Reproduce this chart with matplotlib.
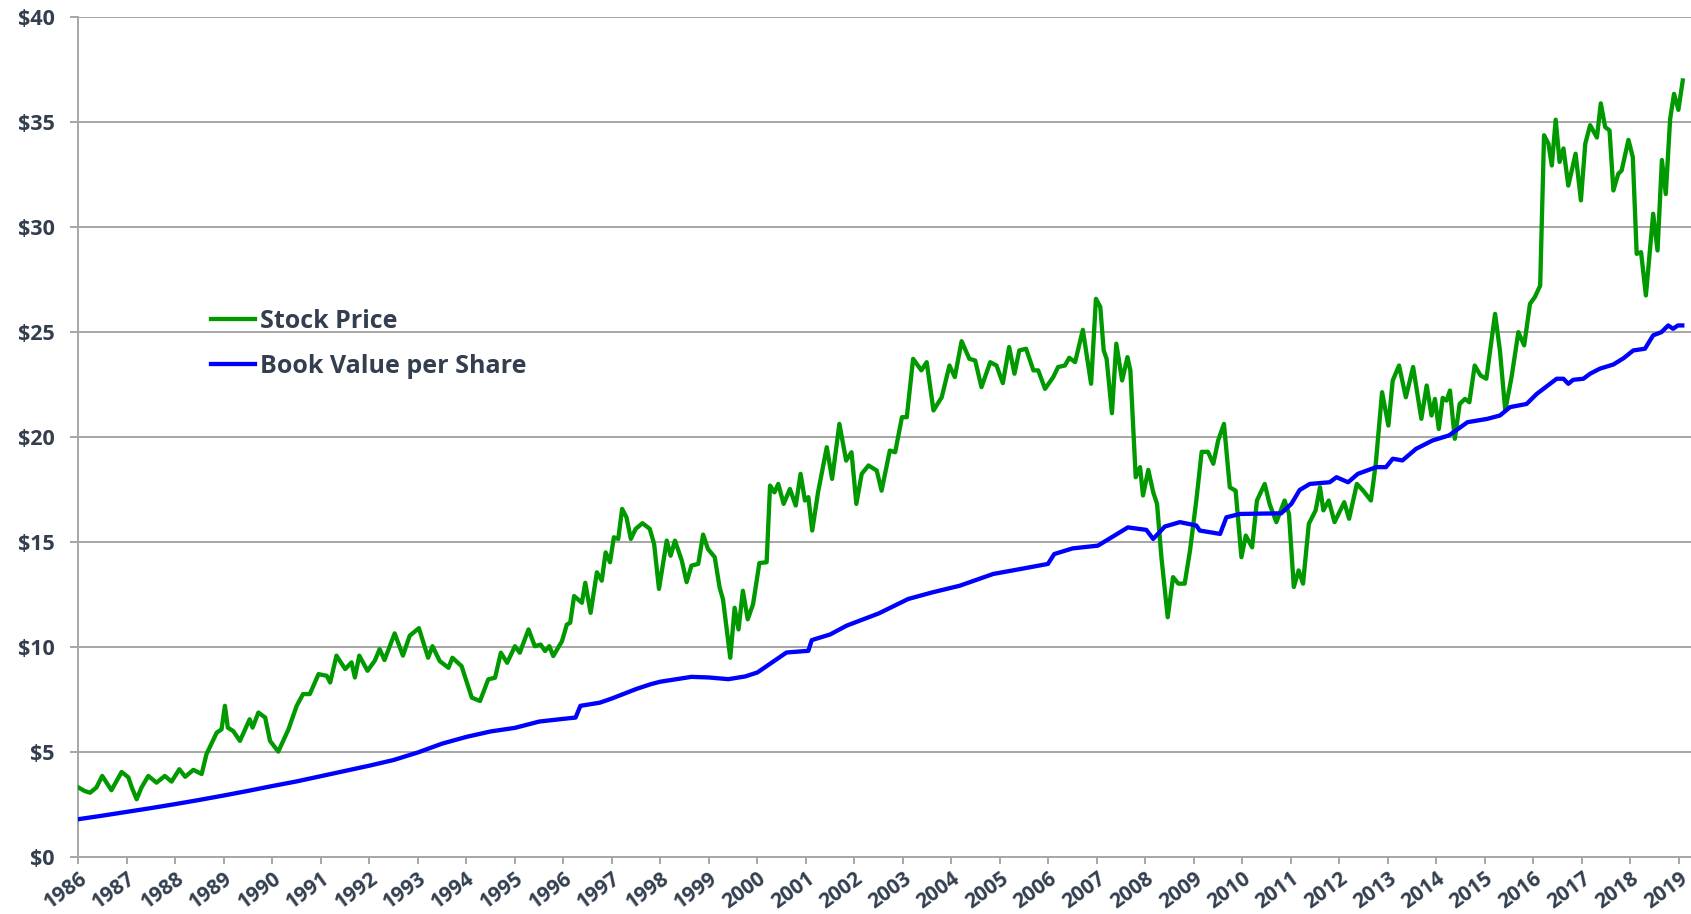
import matplotlib
matplotlib.use('Agg')
import matplotlib.pyplot as plt
from matplotlib.ticker import FuncFormatter

# stock price (decimal year, $)
price_years = [
    1986.00, 1986.13, 1986.24, 1986.37, 1986.49, 1986.58, 1986.68, 1986.89, 1987.03, 1987.10,
    1987.20, 1987.30, 1987.44, 1987.61, 1987.78, 1987.92, 1988.08, 1988.20, 1988.37, 1988.54,
    1988.64, 1988.85, 1988.95, 1989.02, 1989.08, 1989.19, 1989.33, 1989.53, 1989.59, 1989.71,
    1989.85, 1989.95, 1990.12, 1990.33, 1990.50, 1990.63, 1990.77, 1990.95, 1991.12, 1991.19,
    1991.32, 1991.50, 1991.63, 1991.70, 1991.79, 1991.96, 1992.11, 1992.21, 1992.31, 1992.52,
    1992.69, 1992.83, 1993.02, 1993.21, 1993.30, 1993.45, 1993.63, 1993.71, 1993.90, 1994.11,
    1994.28, 1994.45, 1994.59, 1994.71, 1994.84, 1995.00, 1995.10, 1995.28, 1995.41, 1995.53,
    1995.62, 1995.71, 1995.79, 1995.97, 1996.07, 1996.14, 1996.22, 1996.38, 1996.45, 1996.56,
    1996.69, 1996.79, 1996.87, 1996.96, 1997.04, 1997.13, 1997.21, 1997.30, 1997.39, 1997.49,
    1997.63, 1997.78, 1997.87, 1997.97, 1998.13, 1998.21, 1998.30, 1998.44, 1998.54, 1998.64,
    1998.78, 1998.88, 1998.98, 1999.12, 1999.22, 1999.29, 1999.44, 1999.53, 1999.61, 1999.70,
    1999.80, 1999.91, 2000.04, 2000.19, 2000.26, 2000.35, 2000.43, 2000.54, 2000.67, 2000.79,
    2000.89, 2000.98, 2001.05, 2001.13, 2001.25, 2001.43, 2001.54, 2001.69, 2001.83, 2001.94,
    2002.04, 2002.15, 2002.29, 2002.46, 2002.56, 2002.73, 2002.84, 2002.98, 2003.08, 2003.21,
    2003.38, 2003.49, 2003.63, 2003.80, 2003.96, 2004.07, 2004.21, 2004.37, 2004.49, 2004.62,
    2004.80, 2004.93, 2005.06, 2005.19, 2005.30, 2005.40, 2005.54, 2005.69, 2005.79, 2005.93,
    2006.10, 2006.20, 2006.34, 2006.43, 2006.55, 2006.71, 2006.88, 2006.98, 2007.07, 2007.14,
    2007.20, 2007.31, 2007.40, 2007.52, 2007.63, 2007.69, 2007.80, 2007.89, 2007.95, 2008.06,
    2008.16, 2008.24, 2008.33, 2008.46, 2008.57, 2008.68, 2008.81, 2008.92, 2009.05, 2009.16,
    2009.29, 2009.40, 2009.50, 2009.62, 2009.74, 2009.86, 2009.98, 2010.07, 2010.20, 2010.30,
    2010.46, 2010.56, 2010.70, 2010.87, 2010.96, 2011.06, 2011.16, 2011.25, 2011.37, 2011.51,
    2011.60, 2011.67, 2011.78, 2011.90, 2012.10, 2012.20, 2012.36, 2012.49, 2012.65, 2012.75,
    2012.88, 2013.01, 2013.10, 2013.23, 2013.37, 2013.52, 2013.69, 2013.80, 2013.90, 2013.97,
    2014.05, 2014.13, 2014.21, 2014.28, 2014.38, 2014.48, 2014.59, 2014.68, 2014.79, 2014.91,
    2015.03, 2015.21, 2015.31, 2015.42, 2015.55, 2015.69, 2015.81, 2015.93, 2016.03, 2016.14,
    2016.22, 2016.31, 2016.38, 2016.46, 2016.54, 2016.62, 2016.72, 2016.87, 2016.98, 2017.07,
    2017.17, 2017.31, 2017.39, 2017.48, 2017.57, 2017.65, 2017.75, 2017.82, 2017.96, 2018.05,
    2018.13, 2018.22, 2018.32, 2018.47, 2018.56, 2018.65, 2018.73, 2018.82, 2018.90, 2018.99,
    2019.08,
]
price_values = [
    3.31, 3.14, 3.06, 3.31, 3.86, 3.54, 3.18, 4.05, 3.79, 3.31,
    2.75, 3.31, 3.86, 3.54, 3.86, 3.59, 4.18, 3.82, 4.15, 3.95,
    4.90, 5.92, 6.08, 7.20, 6.16, 6.00, 5.53, 6.56, 6.16, 6.88,
    6.64, 5.53, 5.02, 6.08, 7.20, 7.76, 7.76, 8.71, 8.63, 8.31,
    9.59, 8.95, 9.27, 8.55, 9.59, 8.87, 9.35, 9.90, 9.38, 10.65,
    9.59, 10.54, 10.90, 9.49, 10.04, 9.33, 9.01, 9.49, 9.09, 7.59,
    7.43, 8.46, 8.54, 9.73, 9.25, 10.04, 9.73, 10.84, 10.04, 10.12,
    9.81, 10.04, 9.57, 10.28, 11.07, 11.16, 12.43, 12.11, 13.06, 11.63,
    13.56, 13.16, 14.51, 14.04, 15.23, 15.15, 16.58, 16.18, 15.15, 15.63,
    15.90, 15.63, 14.91, 12.77, 15.07, 14.35, 15.07, 14.12, 13.09, 13.88,
    13.96, 15.36, 14.67, 14.28, 12.84, 12.27, 9.49, 11.87, 10.84, 12.68,
    11.32, 12.04, 14.00, 14.04, 17.69, 17.37, 17.77, 16.82, 17.53, 16.74,
    18.25, 16.98, 17.14, 15.55, 17.37, 19.52, 18.01, 20.63, 18.88, 19.28,
    16.82, 18.25, 18.65, 18.41, 17.45, 19.36, 19.28, 20.95, 20.95, 23.73,
    23.18, 23.57, 21.27, 21.90, 23.41, 22.86, 24.57, 23.73, 23.65, 22.38,
    23.57, 23.41, 22.57, 24.29, 23.02, 24.13, 24.21, 23.18, 23.18, 22.30,
    22.86, 23.34, 23.41, 23.78, 23.57, 25.11, 22.54, 26.59, 26.20, 24.13,
    23.73, 21.14, 24.45, 22.70, 23.81, 23.18, 18.09, 18.57, 17.22, 18.44,
    17.38, 16.82, 14.28, 11.42, 13.33, 13.02, 13.02, 14.60, 16.99, 19.30,
    19.30, 18.73, 19.84, 20.63, 17.61, 17.45, 14.28, 15.31, 14.75, 16.98,
    17.77, 16.82, 15.95, 16.98, 16.35, 12.86, 13.65, 13.02, 15.87, 16.51,
    17.61, 16.51, 16.98, 15.95, 16.90, 16.11, 17.77, 17.45, 16.98, 18.73,
    22.14, 20.55, 22.70, 23.41, 21.90, 23.34, 20.87, 22.46, 21.03, 21.82,
    20.39, 21.87, 21.74, 22.22, 19.92, 21.58, 21.82, 21.66, 23.41, 22.94,
    22.78, 25.87, 24.13, 21.27, 22.86, 25.00, 24.37, 26.35, 26.67, 27.22,
    34.38, 33.98, 32.94, 35.12, 33.11, 33.75, 31.98, 33.50, 31.28, 33.98,
    34.86, 34.27, 35.90, 34.77, 34.61, 31.75, 32.54, 32.70, 34.16, 33.34,
    28.73, 28.81, 26.75, 30.64, 28.89, 33.20, 31.58, 35.16, 36.35, 35.59,
    36.99,
]

# book value per share
book_years = [
    1986.00, 1986.50, 1987.00, 1987.50, 1988.00, 1988.50, 1989.00, 1989.50, 1990.00, 1990.50,
    1991.00, 1991.50, 1992.00, 1992.50, 1993.00, 1993.50, 1994.00, 1994.50, 1995.00, 1995.50,
    1996.00, 1996.25, 1996.35, 1996.75, 1997.00, 1997.50, 1997.80, 1998.00, 1998.64, 1999.00,
    1999.40, 1999.75, 2000.00, 2000.60, 2001.05, 2001.12, 2001.50, 2001.84, 2002.50, 2003.11,
    2003.60, 2004.17, 2004.86, 2005.50, 2005.99, 2006.12, 2006.50, 2007.02, 2007.64, 2008.02,
    2008.16, 2008.40, 2008.71, 2009.05, 2009.12, 2009.54, 2009.67, 2009.95, 2010.50, 2010.80,
    2011.01, 2011.18, 2011.39, 2011.80, 2011.94, 2012.18, 2012.38, 2012.76, 2012.96, 2013.10,
    2013.30, 2013.58, 2013.92, 2014.26, 2014.64, 2015.05, 2015.31, 2015.52, 2015.86, 2016.07,
    2016.48, 2016.62, 2016.72, 2016.82, 2017.03, 2017.17, 2017.37, 2017.65, 2017.86, 2018.06,
    2018.30, 2018.47, 2018.64, 2018.78, 2018.88, 2018.98, 2019.07,
]
book_values = [
    1.80, 1.97, 2.15, 2.33, 2.52, 2.72, 2.93, 3.15, 3.38, 3.60,
    3.85, 4.10, 4.35, 4.62, 4.98, 5.40, 5.72, 5.98, 6.15, 6.45,
    6.58, 6.64, 7.20, 7.35, 7.55, 8.00, 8.23, 8.35, 8.58, 8.55,
    8.47, 8.60, 8.79, 9.74, 9.82, 10.33, 10.60, 11.02, 11.60, 12.29,
    12.60, 12.92, 13.48, 13.75, 13.96, 14.43, 14.70, 14.83, 15.70, 15.58,
    15.15, 15.74, 15.95, 15.79, 15.55, 15.39, 16.18, 16.34, 16.36, 16.37,
    16.82, 17.48, 17.77, 17.85, 18.09, 17.85, 18.25, 18.57, 18.57, 18.97,
    18.89, 19.44, 19.84, 20.08, 20.71, 20.87, 21.03, 21.43, 21.58, 22.06,
    22.78, 22.78, 22.54, 22.73, 22.78, 23.02, 23.26, 23.46, 23.76, 24.13,
    24.21, 24.85, 25.00, 25.32, 25.16, 25.32, 25.32,
]

year_ticks = list(range(1986, 2020))
dollar_ticks = [0, 5, 10, 15, 20, 25, 30, 35, 40]

text_col = '#333f4f'
grid_col = '#a6a6a6'

plt.rcParams['font.family'] = ['Open Sans', 'DejaVu Sans']
plt.rcParams['font.weight'] = 'bold'

fig = plt.figure(figsize=(16.91, 9.14), dpi=100)
ax = fig.add_axes([0.0464, 0.0624, 0.9536, 0.9187])

ax.plot(price_years, price_values, color='#009900', lw=3.1, label='Stock Price',
        solid_joinstyle='round', zorder=3)
ax.plot(book_years, book_values, color='#0000ff', lw=3.1, label='Book Value per Share',
        solid_joinstyle='round', zorder=3)

ax.set_xlim(1986, 2019.25)
ax.set_ylim(0, 40)
ax.set_xticks(year_ticks)
ax.set_yticks(dollar_ticks)
ax.yaxis.set_major_formatter(FuncFormatter(lambda v, p: '${:.0f}'.format(v)))
ax.set_xticklabels([str(y) for y in year_ticks], rotation=36, ha='right',
                   rotation_mode='anchor')

ax.grid(axis='y', color=grid_col, lw=1.4)
ax.set_axisbelow(True)
for s in ['top', 'right']:
    ax.spines[s].set_visible(False)
for s in ['left', 'bottom']:
    ax.spines[s].set_color(grid_col)
    ax.spines[s].set_linewidth(1.4)

ax.tick_params(axis='y', length=6, width=1.4, color=grid_col, pad=11,
               labelsize=15.5, labelcolor=text_col)
ax.tick_params(axis='x', length=5, width=1.4, color=grid_col, pad=3,
               labelsize=15, labelcolor=text_col)

leg = ax.legend(loc='upper left', bbox_to_anchor=(211 / 1691, 1 - 309 / 914),
                bbox_transform=fig.transFigure, frameon=False, fontsize=18,
                handlelength=1.75, handletextpad=0.2, labelspacing=0.8,
                borderpad=0, borderaxespad=0)
for t in leg.get_texts():
    t.set_color(text_col)

fig.savefig('out.png', dpi=100)
